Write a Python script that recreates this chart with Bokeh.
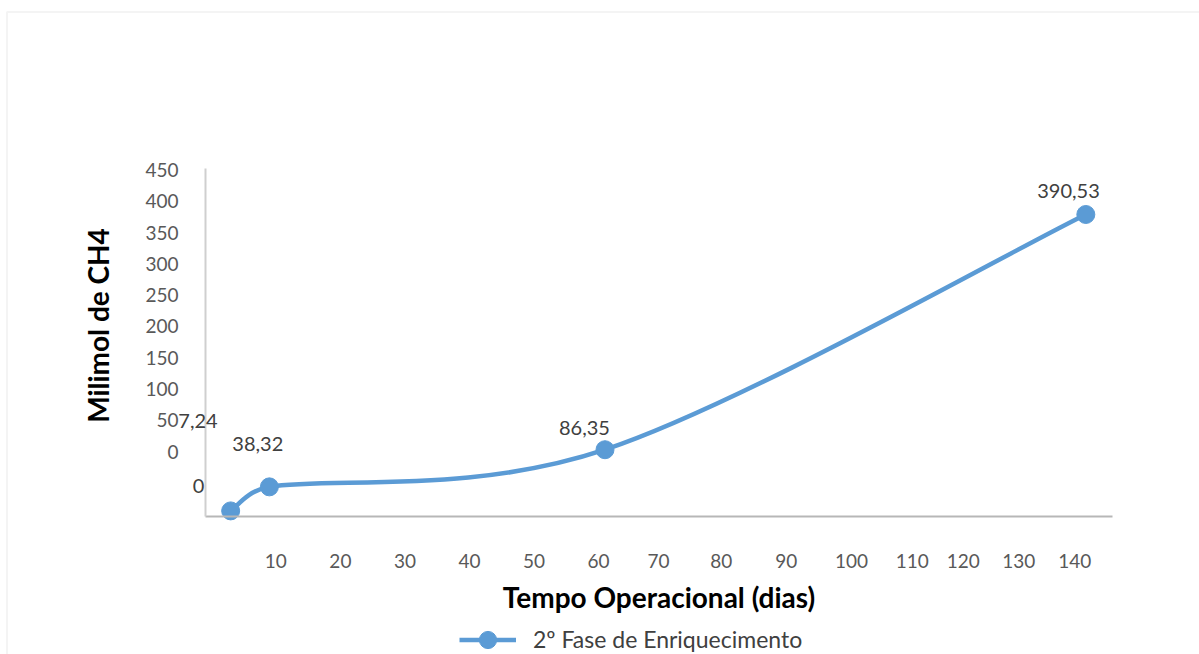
import math

from bokeh.embed import file_html
from bokeh.models import (BoxAnnotation, CustomJSTickFormatter, FixedTicker, Label,
                          Legend, LegendItem, LinearAxis, Range1d)
from bokeh.plotting import figure
from bokeh.resources import INLINE

# ---------------------------------------------------------------- data
days = [3, 9, 61, 135.5]                      # tempo operacional (dias)
ch4_mmol = [7.24, 38.32, 86.35, 390.53]        # milimol de CH4 acumulado
point_labels = ["7,24", "38,32", "86,35", "390,53"]
series_name = "2º Fase de Enriquecimento"

x_tick_labels = ["10", "20", "30", "40", "50", "60", "70", "80", "90", "100",
                 "110", "120", "130", "140"]
# where each day label sits along the day scale (the long labels crowd to the left)
x_tick_days = [10, 20, 30, 40, 50, 60, 69.3, 79.0, 89.1, 99.2, 108.6, 116.5, 125.1, 133.8]
y_tick_values = [0, 50, 100, 150, 200, 250, 300, 350, 400, 450]

# ---------------------------------------------------------------- layout
W, H = 1199, 654
AX_L, AX_R, AX_T, AX_B = 205, 1112, 168, 516   # where the axis lines run (canvas px)

# day scale: 0 d at x = 210.8 px, 6.454 px per day
X0_PX, X_PX_PER_DAY = 210.8, 6.454
# CH4 scale: 0 mmol at y = 516 px, 348 px for 450 mmol
Y0_PX, Y_PX_PER_UNIT = 516.0, 348.0 / 450.0
# printed y labels follow their own, tighter spacing
T0_PX, T_PX_PER_UNIT = 451.0, 0.6251

BLUE = "#5B9BD5"
TICK_GREY = "#595959"
LABEL_GREY = "#404040"
FONT = "Lato"


def day_at(px):
    return (px - X0_PX) / X_PX_PER_DAY


def ch4_at(py):
    return (Y0_PX - py) / Y_PX_PER_UNIT


def tick_at(py):
    return (T0_PX - py) / T_PX_PER_UNIT


# the plotting frame covers the whole canvas; axes sit at fixed locations inside it
p = figure(width=W, height=H,
           x_range=Range1d(day_at(0), day_at(W)), y_range=Range1d(ch4_at(H), ch4_at(0)),
           x_axis_location=None, y_axis_location=None,
           output_backend="svg", toolbar_location=None,
           min_border_left=0, min_border_right=0, min_border_top=0, min_border_bottom=0)
p.outline_line_color = None
p.background_fill_color = "white"
p.border_fill_color = "white"
p.grid.visible = False

# ---------------------------------------------------------------- axes
p.extra_y_ranges = {"tick_scale": Range1d(tick_at(H), tick_at(0))}
yax = LinearAxis(y_range_name="tick_scale", ticker=FixedTicker(ticks=y_tick_values),
                 fixed_location=day_at(AX_L), bounds=(tick_at(AX_B), tick_at(AX_T)))
xax = LinearAxis(ticker=FixedTicker(ticks=x_tick_days),
                 formatter=CustomJSTickFormatter(args=dict(labels=x_tick_labels),
                                                 code="return labels[index]"),
                 fixed_location=ch4_at(AX_B), bounds=(day_at(AX_L), day_at(AX_R)),
                 axis_label="Tempo Operacional (dias)")
for ax in (xax, yax):
    ax.major_tick_line_color = None
    ax.minor_tick_line_color = None
    ax.major_tick_out = 0
    ax.major_tick_in = 0
    ax.major_label_text_font = FONT
    ax.major_label_text_font_size = "19px"
    ax.major_label_text_color = TICK_GREY
    ax.axis_line_width = 2
yax.axis_line_color = "#cfcfcf"
xax.axis_line_color = "#b7b7b7"
yax.major_label_standoff = 27
xax.major_label_standoff = 37
xax.axis_label_standoff = 9
xax.axis_label_text_font = FONT
xax.axis_label_text_font_style = "bold"
xax.axis_label_text_font_size = "28px"
xax.axis_label_text_color = "black"
p.add_layout(yax, "left")
p.add_layout(xax, "below")

p.add_layout(Label(x=97.5, y=H - 325, x_units="screen", y_units="screen",
                   text="Milimol de CH4", angle=math.pi / 2,
                   text_align="center", text_baseline="middle",
                   text_font=FONT, text_font_style="bold", text_font_size="28px",
                   text_color="black"))

# ---------------------------------------------------------------- smoothed series
# Catmull-Rom style tangents computed in screen proportions, turned into
# cubic Bezier control points.
kx, ky = X_PX_PER_DAY, Y_PX_PER_UNIT
pts = [(d * kx, v * ky) for d, v in zip(days, ch4_mmol)]
n = len(pts)
tangents = []
for i in range(n):
    a = pts[max(i - 1, 0)]
    b = pts[min(i + 1, n - 1)]
    tangents.append(((b[0] - a[0]) / 6.0, (b[1] - a[1]) / 6.0))


def clamp(t, limit):
    m = math.hypot(*t)
    if m <= limit or m == 0:
        return t
    return (t[0] * limit / m, t[1] * limit / m)


bz = dict(x0=[], y0=[], x1=[], y1=[], cx0=[], cy0=[], cx1=[], cy1=[])
for i in range(n - 1):
    p0, p1 = pts[i], pts[i + 1]
    seg = math.hypot(p1[0] - p0[0], p1[1] - p0[1])
    t0 = clamp(tangents[i], 0.5 * seg)
    t1 = clamp(tangents[i + 1], 0.5 * seg)
    bz["x0"].append(days[i]); bz["y0"].append(ch4_mmol[i])
    bz["x1"].append(days[i + 1]); bz["y1"].append(ch4_mmol[i + 1])
    bz["cx0"].append((p0[0] + t0[0]) / kx); bz["cy0"].append((p0[1] + t0[1]) / ky)
    bz["cx1"].append((p1[0] - t1[0]) / kx); bz["cy1"].append((p1[1] - t1[1]) / ky)

curve = p.bezier(source=bz, x0="x0", y0="y0", x1="x1", y1="y1",
                 cx0="cx0", cy0="cy0", cx1="cx1", cy1="cy1",
                 line_color=BLUE, line_width=4.5)
markers = p.scatter(days, ch4_mmol, size=18, marker="circle",
                    fill_color=BLUE, line_color=BLUE)

# ---------------------------------------------------------------- value labels
label_dx = [-32.7, -11.6, -20.5, -17.3]
label_dy = [89.6, 42.7, 22.2, 23.0]
for d, v, t, dx, dy in zip(days, ch4_mmol, point_labels, label_dx, label_dy):
    p.add_layout(Label(x=d, y=v, text=t, x_offset=dx, y_offset=dy,
                       text_align="center", text_baseline="middle",
                       text_font=FONT, text_font_size="20px", text_color=LABEL_GREY))
# reading at the origin of the run
p.add_layout(Label(x=0, y=0, text="0", x_offset=-12.8, y_offset=30.5,
                   text_align="center", text_baseline="middle",
                   text_font=FONT, text_font_size="20px", text_color=LABEL_GREY))

# ---------------------------------------------------------------- legend
legend = Legend(items=[LegendItem(label=series_name, renderers=[curve, markers])],
                location=(459, H - 666.5),
                glyph_width=57, glyph_height=43, label_height=55, label_standoff=17,
                padding=0, margin=0, spacing=0,
                border_line_color=None, background_fill_alpha=0,
                label_text_font=FONT, label_text_font_size="23px",
                label_text_color=LABEL_GREY)
p.add_layout(legend)

# ---------------------------------------------------------------- page frame
p.add_layout(BoxAnnotation(left=6.5, right=W + 40, top=H - 11.5, bottom=-40,
                           left_units="screen", right_units="screen",
                           top_units="screen", bottom_units="screen",
                           fill_alpha=0, line_color="#d9d9d9", line_width=2,
                           level="underlay"))

open("out.html", "w").write(file_html(p, INLINE))
